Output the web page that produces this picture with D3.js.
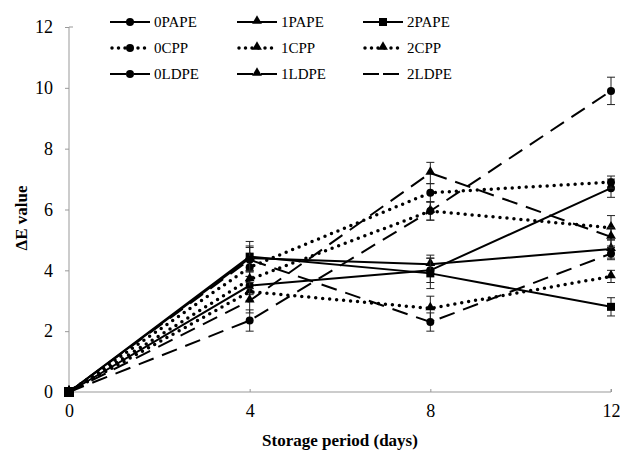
<!DOCTYPE html>
<html>
<head>
<meta charset="utf-8">
<script src="https://cdnjs.cloudflare.com/ajax/libs/d3/7.8.5/d3.min.js"></script>
<style>
	body { margin: 0; background: #fff; }
	svg text { font-family: "Liberation Serif", "Times New Roman", serif; fill: #000; }
</style>
</head>
<body>
<div id="outerDiv"></div>
<script>
	// storage days
	var days = [0, 4, 8, 12];

	var names = ["0PAPE", "1PAPE", "2PAPE", "0CPP", "1CPP", "2CPP", "0LDPE", "1LDPE", "2LDPE"];

	// delta E values
	var v0PAPE = [0, 3.5, 4.0, 6.7];
	var v1PAPE = [0, 4.4, 4.2, 4.7];
	var v2PAPE = [0, 4.45, 3.9, 2.8];
	var v0CPP  = [0, 4.1, 6.55, 6.9];
	var v1CPP  = [0, 3.7, 5.95, 5.4];
	var v2CPP  = [0, 3.3, 2.75, 3.8];
	var v0LDPE = [0, 4.35, 2.3, 4.55];
	var v1LDPE = [0, 3.0, 7.2, 5.1];
	var v2LDPE = [0, 2.35, 5.95, 9.9];

	// error bar half widths
	var e0PAPE = [0, 0.3, 0.4, 0.3];
	var e1PAPE = [0, 0.4, 0.3, 0.3];
	var e2PAPE = [0, 0.5, 0.5, 0.3];
	var e0CPP  = [0, 0.3, 0.3, 0.2];
	var e1CPP  = [0, 0.3, 0.3, 0.4];
	var e2CPP  = [0, 0.3, 0.4, 0.2];
	var e0LDPE = [0, 0.4, 0.3, 0.2];
	var e1LDPE = [0, 0.4, 0.35, 0.3];
	var e2LDPE = [0, 0.35, 0.3, 0.45];

	var xTicks = [0, 4, 8, 12];
	var yTicks = [0, 2, 4, 6, 8, 10, 12];

	var values = [v0PAPE, v1PAPE, v2PAPE, v0CPP, v1CPP, v2CPP, v0LDPE, v1LDPE, v2LDPE];
	var errors = [e0PAPE, e1PAPE, e2PAPE, e0CPP, e1CPP, e2CPP, e0LDPE, e1LDPE, e2LDPE];
	var shapes = ["circle", "triangle", "square", "circle", "triangle", "triangle", "circle", "triangle", "none"];
	var styles = ["solid", "solid", "solid", "dot", "dot", "dot", "dash", "dash", "dash"];

	var width = 620, height = 451;
	var serif = "'Liberation Serif', 'Times New Roman', serif";

	var svg = d3.select("#outerDiv").append("svg")
	.attr("width", width)
	.attr("height", height);

	var x = d3.scaleLinear().domain([0, 12]).range([69, 611]);
	var y = d3.scaleLinear().domain([0, 12]).range([392, 27]);

	// axes
	var xAxis = svg.append("g").attr("transform", "translate(0," + y(0) + ")")
	.call(d3.axisBottom(x).tickValues(xTicks).tickSize(-3).tickPadding(12));
	var yAxis = svg.append("g").attr("transform", "translate(" + x(0) + ",0)")
	.call(d3.axisLeft(y).tickValues(yTicks).tickSize(4).tickPadding(12));

	svg.selectAll(".domain, .tick line").attr("stroke", "#999").attr("stroke-width", 1);
	xAxis.select(".domain").attr("d", "M" + x(0) + ",0H" + x(12) + "V-3");
	yAxis.select(".domain").attr("d", "M4," + y(12) + "H0V" + y(0));
	svg.selectAll(".tick text")
	.style("font-family", serif)
	.style("font-size", "18px")
	.attr("fill", "#000");

	svg.append("text")
	.attr("x", 340).attr("y", 446)
	.attr("text-anchor", "middle")
	.style("font-family", serif)
	.attr("font-size", 17).attr("font-weight", "bold")
	.text("Storage period (days)");

	svg.append("text")
	.attr("transform", "translate(27,218)rotate(-90)")
	.attr("text-anchor", "middle")
	.style("font-family", serif)
	.attr("font-size", 17).attr("font-weight", "bold")
	.text("ΔE value");

	function dashFor(s)
	{
		if (s == "dot") return "0 7";
		if (s == "dash") return "16 9";
		return null;
	}

	function marker(g, shape, cx, cy)
	{
		if (shape == "circle")
			g.append("circle").attr("cx", cx).attr("cy", cy).attr("r", 4).attr("fill", "#000");
		else if (shape == "triangle")
			g.append("path").attr("d", d3.symbol().type(d3.symbolTriangle).size(42)())
			.attr("transform", "translate(" + cx + "," + (cy - 1) + ")").attr("fill", "#000");
		else if (shape == "square")
			g.append("rect").attr("x", cx - 4).attr("y", cy - 4).attr("width", 8).attr("height", 8).attr("fill", "#000");
	}

	var line = d3.line()
	.x(function(d, i) { return x(days[i]); })
	.y(function(d) { return y(d); });

	var plot = svg.append("g");

	values.forEach(function(vals, k)
	{
		var g = plot.append("g");
		var st = styles[k];

		// error bars
		vals.forEach(function(v, i)
		{
			var err = errors[k][i];
			if (!err) return;
			var cx = x(days[i]);
			g.append("line").attr("x1", cx).attr("x2", cx).attr("y1", y(v - err)).attr("y2", y(v + err))
			.attr("stroke", "#222").attr("stroke-width", 1);
			g.append("line").attr("x1", cx - 4).attr("x2", cx + 4).attr("y1", y(v - err)).attr("y2", y(v - err))
			.attr("stroke", "#222").attr("stroke-width", 1);
			g.append("line").attr("x1", cx - 4).attr("x2", cx + 4).attr("y1", y(v + err)).attr("y2", y(v + err))
			.attr("stroke", "#222").attr("stroke-width", 1);
		});

		g.append("path")
		.attr("d", line(vals))
		.attr("fill", "none")
		.attr("stroke", "#000")
		.attr("stroke-width", st == "dot" ? 3.5 : 2)
		.attr("stroke-linecap", st == "dot" ? "round" : "butt")
		.attr("stroke-dasharray", dashFor(st));

		vals.forEach(function(v, i)
		{
			marker(g, shapes[k] == "none" ? "circle" : shapes[k], x(days[i]), y(v));
		});
	});

	// zero point marker
	plot.append("rect").attr("x", x(0) - 5).attr("y", y(0) - 5).attr("width", 10).attr("height", 10).attr("fill", "#000");

	// legend
	var colX = [110, 237, 363];
	var rowY = [22, 48, 74];
	var legend = svg.append("g");

	names.forEach(function(n, k)
	{
		var col = k % 3, row = Math.floor(k / 3);
		var lx = colX[col], ly = rowY[row];
		var st = styles[k];
		var g = legend.append("g");

		if (st == "dash")
		{
			if (shapes[k] == "none")
				g.append("path").attr("d", "M" + lx + "," + ly + "H" + (lx + 40))
				.attr("stroke", "#000").attr("stroke-width", 2).attr("stroke-dasharray", "16 4");
			else
				g.append("path").attr("d", "M" + lx + "," + ly + "H" + (lx + 16) + "M" + (lx + 24) + "," + ly + "H" + (lx + 40))
				.attr("stroke", "#000").attr("stroke-width", 2);
		}
		else
		{
			g.append("path").attr("d", "M" + (st == "dot" ? lx + 2 : lx) + "," + ly + "H" + (lx + 40))
			.attr("fill", "none")
			.attr("stroke", "#000")
			.attr("stroke-width", st == "dot" ? 3.5 : 2)
			.attr("stroke-linecap", st == "dot" ? "round" : "butt")
			.attr("stroke-dasharray", st == "dot" ? "0 6.5" : null);
		}
		if (shapes[k] != "none") marker(g, shapes[k], lx + 20, ly);

		g.append("text")
		.attr("x", lx + 44).attr("y", ly + 5)
		.style("font-family", serif)
		.attr("font-size", 15)
		.text(n);
	});
</script>
</body>
</html>
